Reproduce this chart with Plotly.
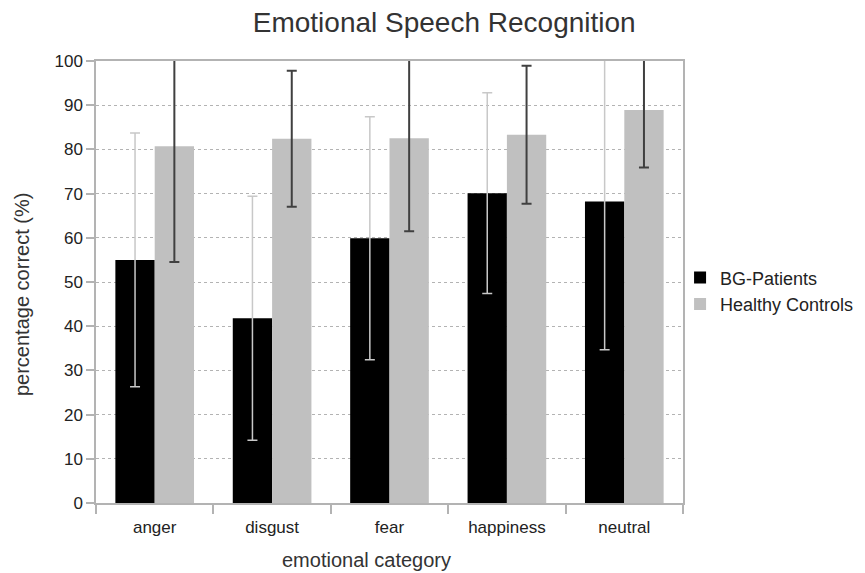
import plotly.graph_objects as go

categories = ["anger", "disgust", "fear", "happiness", "neutral"]
bg_patients = [55.0, 41.8, 59.9, 70.1, 68.2]
bg_err = [28.7, 27.6, 27.5, 22.7, 33.5]
healthy = [80.7, 82.4, 82.5, 83.3, 88.9]
healthy_err = [26.2, 15.4, 21.0, 15.6, 13.0]
y_ticks = [0, 10, 20, 30, 40, 50, 60, 70, 80, 90, 100]

font_family = "Liberation Sans, Arial, sans-serif"

fig = go.Figure()
fig.add_trace(go.Bar(
    x=categories, y=bg_patients, name="BG-Patients",
    marker=dict(color="#000000", line=dict(width=0)),
    error_y=dict(type="data", array=bg_err, visible=True,
                 color="#c8c8c8", thickness=1.5, width=5),
))
fig.add_trace(go.Bar(
    x=categories, y=healthy, name="Healthy Controls",
    marker=dict(color="#c0c0c0", line=dict(width=0)),
    error_y=dict(type="data", array=healthy_err, visible=True,
                 color="#404040", thickness=2, width=5),
))

fig.update_layout(
    width=857, height=565,
    margin=dict(l=88, r=182, t=53, b=70, autoexpand=False),
    paper_bgcolor="white", plot_bgcolor="white",
    barmode="group", bargap=0.33, bargroupgap=0,
    font=dict(family=font_family, size=16, color="#222222"),
    title=dict(text="Emotional Speech Recognition", x=0.509, xanchor="center",
               y=0.975, yanchor="middle",
               font=dict(family=font_family, size=28, color="#333333")),
    legend=dict(x=0.995, xanchor="left", y=0.48, yanchor="middle",
                font=dict(family=font_family, size=18, color="#222222"),
                bgcolor="rgba(0,0,0,0)", tracegroupgap=0, itemwidth=30),
    showlegend=True,
    annotations=[
        dict(text="emotional category", xref="paper", yref="paper",
             x=0.46, y=-0.129, xanchor="center", yanchor="middle",
             showarrow=False, font=dict(size=20, color="#333333")),
        dict(text="percentage correct (%)", xref="paper", yref="paper",
             x=-0.126, y=0.4706, xanchor="center", yanchor="middle", textangle=-90,
             showarrow=False, font=dict(size=20, color="#333333")),
    ],
)
fig.update_xaxes(
    showline=True, linecolor="#b3b3b3", linewidth=1.5, mirror=True,
    ticks="outside", tickson="boundaries", ticklen=9, tickcolor="#b3b3b3", tickwidth=1.5,
    showgrid=False, ticklabelstandoff=8,
    tickfont=dict(size=17, color="#222222"),
)
fig.update_yaxes(
    range=[0, 100], tickvals=y_ticks,
    showline=True, linecolor="#b3b3b3", linewidth=1.5, mirror=True,
    ticks="outside", ticklen=8, tickcolor="#b3b3b3", tickwidth=1.5,
    showgrid=True, gridcolor="#b3b3b3", griddash="dot", gridwidth=1,
    zeroline=False,
    tickfont=dict(size=17, color="#222222"),
)

fig.write_html("out.html")
